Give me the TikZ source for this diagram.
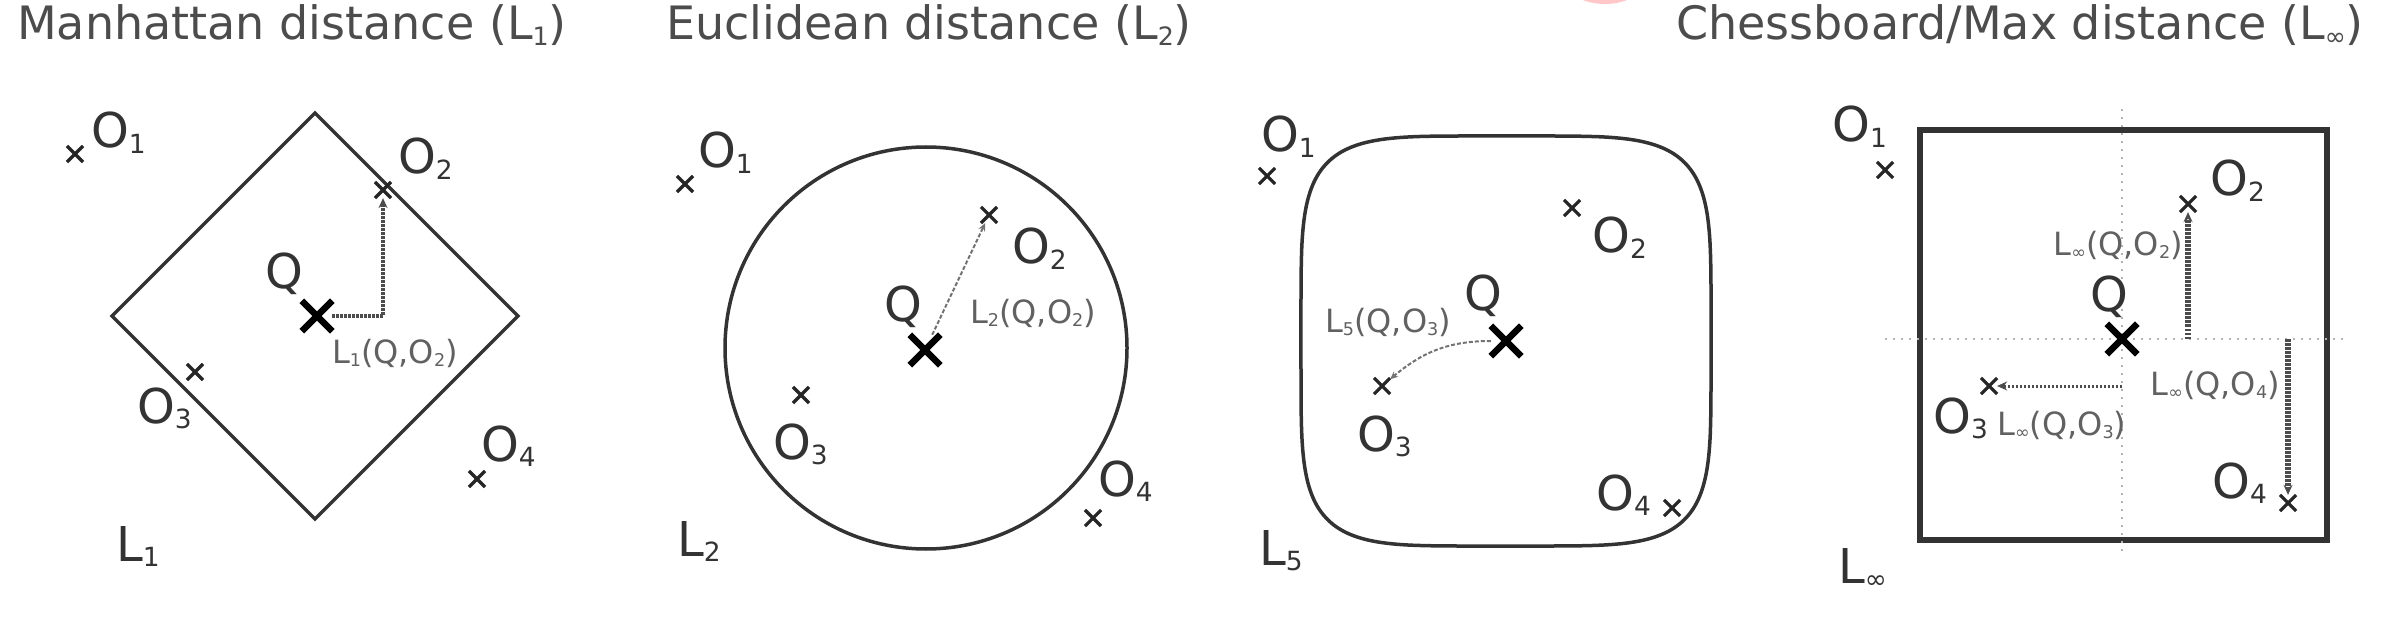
\documentclass[tikz,border=0pt]{standalone}
\usepackage{fontspec}
\setmainfont{DejaVu Sans}
\usepackage{tikz}
\usetikzlibrary{
  positioning,
  arrows.meta,
  shapes.misc
}
\newcommand{\sub}[1]{\raisebox{-.12em}{\scalebox{.55}{#1}}}
\tikzstyle{ttl}=[inner sep=0, anchor=base west, text=black!70, font=\fontsize{46}{50}\selectfont]
\tikzstyle{lab}=[inner sep=0, anchor=base west, text=black!80, font=\fontsize{48}{50}\selectfont]
\tikzstyle{dist}=[inner sep=0, text=black!62, font=\fontsize{32}{34}\selectfont]
\tikzstyle{ball}=[draw=black!80, line width=3.5pt]
\tikzstyle{obj}=[cross out, draw=black!85, minimum size=13pt, inner sep=0, line width=3.2pt]
\tikzstyle{qry}=[obj, draw=black, minimum size=24pt, line width=6.5pt]
\tikzstyle{conn}=[draw=black!70, line width=3.5pt, dash pattern=on 2.5pt off 1.5pt, -{Stealth[length=10pt, width=9pt]}]
\tikzstyle{thin}=[draw=black!55, line width=2pt, dash pattern=on 4pt off 2pt, -{Stealth[length=8pt, width=7pt]}]
\tikzstyle{guide}=[draw=black!30, line width=1.5pt, dash pattern=on 2pt off 6pt]

\begin{document}
\begin{tikzpicture}[x=1pt, y=-1pt]
    \useasboundingbox (0,0) rectangle (2388,620);
    \def\se#1{((#1)>=0?1:-1)*pow(abs(#1),0.4)}

    % 上端の赤い影
    \begin{scope}
      \clip (0,0) rectangle (2388,620);
      \fill[red!22] (1605,-60) circle (64);
    \end{scope}

    % マンハッタン距離
    \node[ttl] (mT) at (17,40) {Manhattan distance (L\sub{1})};
    \draw[ball] (315,113) -- (518,316) -- (315,519) -- (112,316) -- cycle;
    \node[qry] (mQ) at (317,316) {};
    \node[obj] (mO1) at (75,154) {};
    \node[obj] (mO2) at (383,190) {};
    \node[obj] (mO3) at (195,372) {};
    \node[obj] (mO4) at (477,479) {};
    \node[lab] (mQl) at (265,289) {Q};
    \node[lab] (mO1l) at (91,148) {O\sub{1}};
    \node[lab] (mO2l) at (398,174) {O\sub{2}};
    \node[lab] (mO3l) at (137,423) {O\sub{3}};
    \node[lab] (mO4l) at (481,461) {O\sub{4}};
    \draw[conn] (mQ) -| (mO2);
    \node[dist] (mD) at (395,353) {L\sub{1}(Q,O\sub{2})};
    \node[lab] (mL) at (116,561) {L\sub{1}};

    % ユークリッド距離
    \node[ttl] (eT) at (666,40) {Euclidean distance (L\sub{2})};
    \draw[ball] (926,348) circle (201);
    \node[qry] (eQ) at (925,350) {};
    \node[obj] (eO1) at (685,184) {};
    \node[obj] (eO2) at (989,215) {};
    \node[obj] (eO3) at (801,395) {};
    \node[obj] (eO4) at (1093,518) {};
    \node[lab] (eQl) at (884,321) {Q};
    \node[lab] (eO1l) at (698,168) {O\sub{1}};
    \node[lab] (eO2l) at (1012,264) {O\sub{2}};
    \node[lab] (eO3l) at (773,459) {O\sub{3}};
    \node[lab] (eO4l) at (1098,496) {O\sub{4}};
    \draw[thin] (eQ) -- (eO2);
    \node[dist] (eD) at (1033,313) {L\sub{2}(Q,O\sub{2})};
    \node[lab] (eL) at (677,556) {L\sub{2}};

    % L5距離
    \draw[ball, domain=0.5:360.5, samples=145, variable=\t, smooth]
      plot ({1506+205*\se{cos(\t)}}, {341+205*\se{sin(\t)}}) -- cycle;
    \node[qry] (fQ) at (1506,341) {};
    \node[obj] (fO1) at (1267,176) {};
    \node[obj] (fO2) at (1572,208) {};
    \node[obj] (fO3) at (1382,386) {};
    \node[obj] (fO4) at (1672,508) {};
    \node[lab] (fQl) at (1464,311) {Q};
    \node[lab] (fO1l) at (1261,152) {O\sub{1}};
    \node[lab] (fO2l) at (1592,253) {O\sub{2}};
    \node[lab] (fO3l) at (1357,451) {O\sub{3}};
    \node[lab] (fO4l) at (1596,510) {O\sub{4}};
    \draw[thin] (fQ) to[out=180, in=40] (fO3);
    \node[dist] (fD) at (1388,322) {L\sub{5}(Q,O\sub{3})};
    \node[lab] (fL) at (1259,565) {L\sub{5}};

    % チェス盤距離
    \node[ttl] (cT) at (1676,40) {Chessboard/Max distance (L\sub{∞})};
    \draw[ball, line width=6pt] (1920,130) rectangle (2327,540);
    \draw[guide] (1885,339) -- (2344,339);
    \draw[guide] (2122,109) -- (2122,554);
    \node[qry] (cQ) at (2122,339) {};
    \node[obj] (cO1) at (1885,170) {};
    \node[obj] (cO2) at (2188,204) {};
    \node[obj] (cO3) at (1989,386) {};
    \node[obj] (cO4) at (2288,503) {};
    \node[lab] (cQl) at (2090,312) {Q};
    \node[lab] (cO1l) at (1832,142) {O\sub{1}};
    \node[lab] (cO2l) at (2210,196) {O\sub{2}};
    \node[lab] (cO3l) at (1933,433) {O\sub{3}};
    \node[lab] (cO4l) at (2212,498) {O\sub{4}};
    \draw[conn, line width=6pt] (cO2 |- cQ) -- (cO2);
    \draw[conn, line width=3pt] (cQ |- cO3) -- (cO3);
    \draw[conn, line width=6pt] (cO4 |- cQ) -- (cO4);
    \node[dist, anchor=east] (cD2) at (2183,245) {L\sub{∞}(Q,O\sub{2})};
    \node[dist, anchor=east] (cD4) at (2280,385) {L\sub{∞}(Q,O\sub{4})};
    \node[dist, anchor=west] (cD3) at (1997,425) {L\sub{∞}(Q,O\sub{3})};
    \node[lab] (cL) at (1838,583) {L\sub{∞}};
\end{tikzpicture}
\end{document}
